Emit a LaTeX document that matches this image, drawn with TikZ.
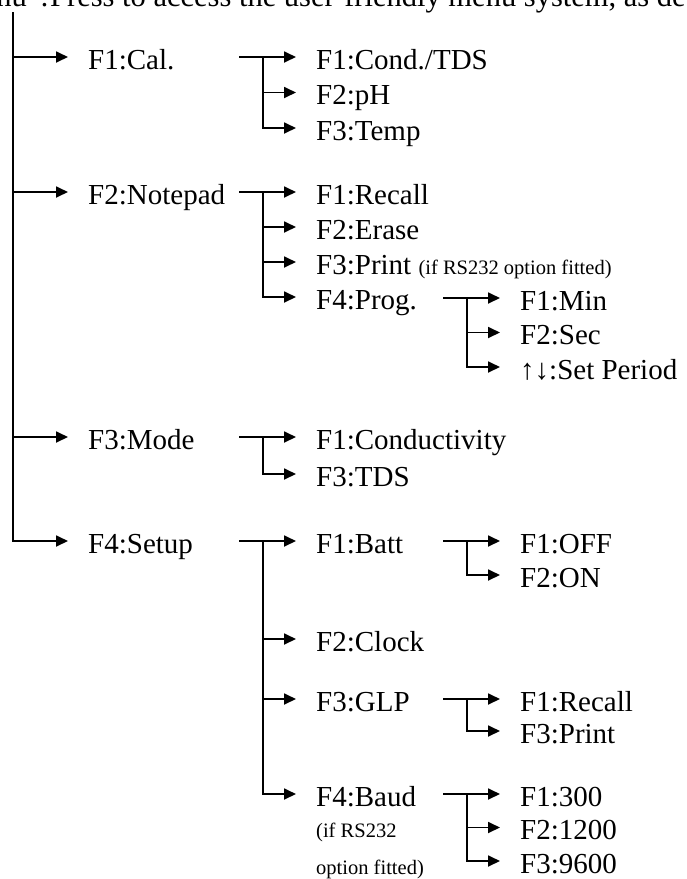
\documentclass[tikz,border=0pt]{standalone}
\usepackage{fontspec}
\setmainfont{Liberation Serif}
\usepackage{tikz}
\usetikzlibrary{
    positioning,
    arrows.meta
}
\tikzset{
  item/.style = {
      anchor=west,
      inner xsep=20pt,
      inner ysep=0pt,
      text height=24pt,
      text depth=0pt,
      font=\fontsize{29}{34}\selectfont
  },
  sibling/.style = {
      item,
      below=of #1.west,
      anchor=west
  },
  note/.style = {
      anchor=base west,
      inner sep=0pt,
      font=\fontsize{20.5}{24}\selectfont
  },
  intro/.style = {
      anchor=base west,
      inner sep=0pt,
      font=\fontsize{30.5}{36}\selectfont
  },
  link/.style = {
      line width=1.8pt,
      -{Triangle[length=12pt,width=11pt]}
  }
}

\begin{document}
\begin{tikzpicture}[x=1pt, y=-1pt, node distance=35pt]
        \useasboundingbox (0,0) rectangle (687,879);
        \clip (0,0) rectangle (687,879);
        % Heading line (cut off at the top)
        \node[intro, anchor=base east] (menuword) at (49,6) {Menu'':};
        \node[intro] (menuline) at (50,6) {Press to access the user-friendly menu system, as detailed below.};
        % Main menu
        \coordinate (root) at (13,12);
        \node[item] (cal) at (68,57) {F1:Cal.};
        \node[item] (notepad) at (68,192) {F2:Notepad};
        \node[item] (mode) at (68,437) {F3:Mode};
        \node[item] (setup) at (68,541) {F4:Setup};
        % Cal.
        \node[item] (cond) at (296,57) {F1:Cond./TDS};
        \node[node distance=35.5pt, sibling=cond] (ph) {F2:pH};
        \node[node distance=35.5pt, sibling=ph] (temp) {F3:Temp};
        % Notepad
        \node[item] (recall) at (296,192) {F1:Recall};
        \node[sibling=recall] (erase) {F2:Erase};
        \node[sibling=erase] (print) {F3:Print {\fontsize{20.5}{24}\selectfont (if RS232 option fitted)}};
        \node[sibling=print] (prog) {F4:Prog.};
        \node[item] (min) at (500,298) {F1:Min};
        \node[node distance=34.5pt, sibling=min] (sec) {F2:Sec};
        \node[node distance=34.5pt, sibling=sec] (period) {↑↓:Set Period};
        % Mode
        \node[item] (conduct) at (296,437) {F1:Conductivity};
        \node[node distance=37pt, sibling=conduct] (tds) {F3:TDS};
        % Setup
        \node[item] (batt) at (296,541) {F1:Batt};
        \node[item] (clock) at (296,639) {F2:Clock};
        \node[item] (glp) at (296,699) {F3:GLP};
        \node[item] (baud) at (296,794) {F4:Baud};
        \node[note] (baudnote) at (316,837) {(if RS232};
        \node[note] (baudnote2) at (316,874) {option fitted)};
        \node[item] (off) at (500,541) {F1:OFF};
        \node[node distance=34pt, sibling=off] (on) {F2:ON};
        \node[item] (glprecall) at (500,699) {F1:Recall};
        \node[node distance=32pt, sibling=glprecall] (glpprint) {F3:Print};
        \node[item] (b300) at (500,794) {F1:300};
        \node[node distance=33.5pt, sibling=b300] (b1200) {F2:1200};
        \node[node distance=33.5pt, sibling=b1200] (b9600) {F3:9600};
        % Branch points
        \coordinate (cal-out) at (239,57);
        \coordinate (cal-bus) at (263,57);
        \coordinate (notepad-out) at (239,192);
        \coordinate (notepad-bus) at (263,192);
        \coordinate (mode-out) at (239,437);
        \coordinate (mode-bus) at (263,437);
        \coordinate (setup-out) at (239,541);
        \coordinate (setup-bus) at (263,541);
        \coordinate (prog-out) at (443,298);
        \coordinate (prog-bus) at (467,298);
        \coordinate (batt-out) at (443,541);
        \coordinate (batt-bus) at (467,541);
        \coordinate (glp-out) at (443,699);
        \coordinate (glp-bus) at (467,699);
        \coordinate (baud-out) at (443,794);
        \coordinate (baud-bus) at (467,794);
        % Connectors
        \foreach \m in {cal,notepad,mode,setup}
            \draw[link] (root) |- (\m.west);
        \draw[link] (cal-out) -- (cond.west);
        \foreach \c in {ph,temp}
            \draw[link] (cal-bus) |- (\c.west);
        \draw[link] (notepad-out) -- (recall.west);
        \foreach \c in {erase,print,prog}
            \draw[link] (notepad-bus) |- (\c.west);
        \draw[link] (prog-out) -- (min.west);
        \foreach \c in {sec,period}
            \draw[link] (prog-bus) |- (\c.west);
        \draw[link] (mode-out) -- (conduct.west);
        \draw[link] (mode-bus) |- (tds.west);
        \draw[link] (setup-out) -- (batt.west);
        \foreach \c in {clock,glp,baud}
            \draw[link] (setup-bus) |- (\c.west);
        \draw[link] (batt-out) -- (off.west);
        \draw[link] (batt-bus) |- (on.west);
        \draw[link] (glp-out) -- (glprecall.west);
        \draw[link] (glp-bus) |- (glpprint.west);
        \draw[link] (baud-out) -- (b300.west);
        \foreach \c in {b1200,b9600}
            \draw[link] (baud-bus) |- (\c.west);
    \end{tikzpicture}
\end{document}
